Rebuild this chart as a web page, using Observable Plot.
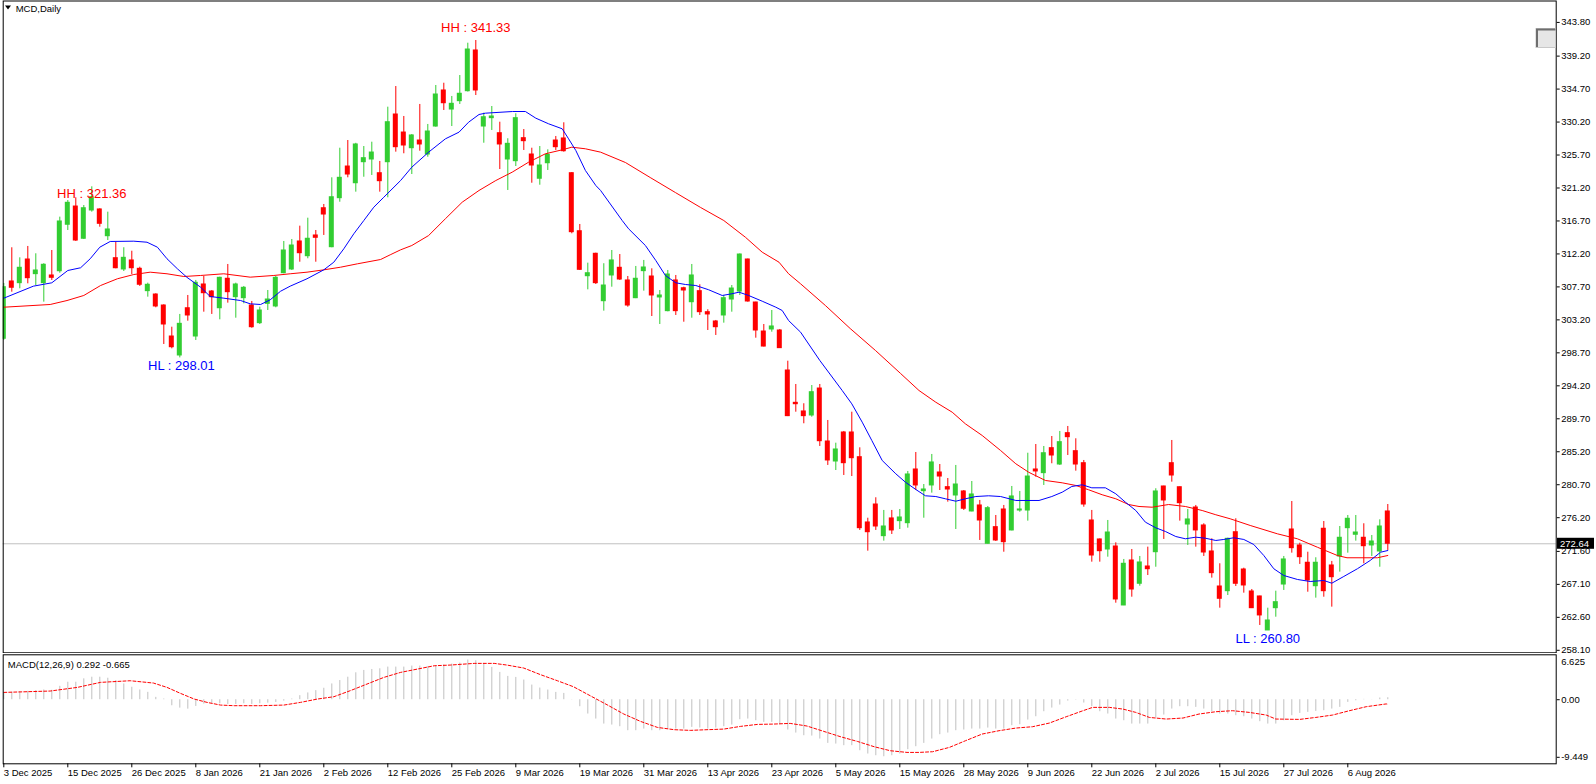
<!DOCTYPE html>
<html>
<head>
<meta charset="utf-8">
<script src="https://cdn.jsdelivr.net/npm/d3@7"></script>
<script src="https://cdn.jsdelivr.net/npm/@observablehq/plot@0.6"></script>
<style>
html,body{margin:0;padding:0;background:#fff;}
#chart{position:relative;width:1596px;height:784px;overflow:hidden;background:#fff;}
#chart svg{position:absolute;left:0;}
</style>
</head>
<body>
<div id="chart"></div>
<script>
// ---- Daily OHLC (bar index 0 = 3 Dec 2025 ... 173 = 13 Aug 2026) ----
const openP = [300.62,308.44,308.21,311.44,309.44,308.21,309.26,309.84,316.18,318.67,314.27,318.13,318.27,314.62,311.62,310.08,311.31,310.17,307.12,306.66,
305.16,300.93,298.34,304.79,300.93,308.03,307.07,304.79,308.81,306.30,306.16,305.16,302.75,305.39,305.03,309.57,310.08,313.90,311.89,314.72,
318.44,313.12,319.81,324.13,321.85,324.72,325.09,323.22,324.72,331.23,328.77,326.63,327.68,325.77,329.59,334.51,331.91,333.05,334.41,339.97,
329.59,330.73,328.68,325.09,324.86,328.00,325.77,322.46,324.58,327.68,327.96,323.22,315.30,309.16,312.22,305.75,309.26,310.31,308.58,306.16,
309.85,309.12,306.26,304.39,308.58,307.52,305.61,307.12,304.25,302.98,303.80,305.98,307.07,311.44,305.57,301.61,301.89,301.75,296.29,291.88,
290.70,290.15,293.83,286.60,283.87,287.83,287.83,284.46,275.55,278.00,273.68,276.10,275.73,275.45,282.78,279.82,280.60,282.37,280.37,279.23,
279.78,277.05,277.87,272.64,274.91,277.32,274.46,277.18,277.18,282.78,282.28,285.69,283.46,287.74,285.28,283.64,275.82,273.23,271.86,272.27,
264.22,270.36,267.18,269.54,271.49,280.46,283.64,280.36,275.27,277.59,275.14,271.59,266.81,266.17,274.22,269.13,266.13,265.45,260.81,263.85,
267.08,274.59,272.41,270.05,266.85,274.69,269.68,270.91,274.77,273.87,273.46,272.41,271.59,277.05];
const highP = [308.17,313.04,311.67,313.22,312.22,310.86,312.67,317.22,319.49,319.86,318.81,321.36,318.36,317.90,313.80,313.04,312.57,310.39,308.21,306.76,
305.26,302.20,303.94,306.53,308.58,309.12,307.21,309.03,310.76,308.21,307.76,305.71,304.93,307.21,309.12,313.90,314.17,315.99,317.08,315.40,
318.95,322.59,326.63,327.68,327.30,326.86,327.45,324.82,332.23,335.05,330.96,328.50,332.60,329.87,335.19,335.50,333.69,336.55,340.96,341.33,
331.41,332.32,330.18,327.92,331.33,329.18,326.63,326.86,326.41,328.23,330.10,323.30,316.22,310.94,312.30,310.86,312.67,312.12,309.12,310.49,
311.31,310.17,307.21,309.94,309.26,307.66,310.76,307.99,304.58,303.12,306.53,307.89,312.20,311.50,305.61,302.57,304.48,301.89,297.56,294.38,
291.75,294.24,294.38,289.47,286.37,287.97,290.60,285.74,276.13,278.92,277.19,277.19,277.32,282.51,285.10,280.73,284.83,283.46,281.55,283.33,
279.91,281.14,278.55,277.73,276.50,277.87,280.46,279.78,285.00,286.19,285.92,287.28,287.97,288.65,286.97,284.01,277.19,273.30,275.82,272.77,
270.50,271.86,270.91,272.18,280.15,280.50,286.74,280.40,277.32,277.87,275.37,273.32,269.91,273.40,276.05,269.31,266.40,265.49,263.85,266.17,
270.91,278.41,272.72,271.49,270.73,275.68,270.23,275.00,276.50,276.50,275.37,273.77,275.91,278.00];
const lowP = [300.40,306.98,307.44,308.12,307.89,305.62,308.58,309.57,315.40,313.90,314.17,317.90,315.85,314.03,310.17,309.80,309.39,307.76,306.30,304.85,
299.84,299.25,298.01,303.02,300.39,304.25,303.94,303.21,305.48,303.43,305.39,302.06,302.57,304.48,304.85,309.49,309.94,311.07,311.54,311.07,
314.72,313.04,319.26,322.59,320.63,322.67,322.91,320.63,319.86,326.09,325.87,323.04,326.22,325.40,329.50,331.78,329.59,332.60,334.30,333.82,
327.31,329.05,323.72,320.86,324.13,326.32,321.85,321.58,323.59,326.32,326.09,314.95,309.94,307.30,308.03,304.39,307.66,308.58,304.93,306.10,
307.12,303.66,302.57,304.30,303.80,302.88,303.43,303.80,301.75,301.07,302.75,304.25,306.53,305.61,300.70,299.50,301.52,299.30,290.00,290.60,
289.02,289.92,285.92,283.33,282.64,281.96,281.82,274.46,271.63,274.46,273.00,273.91,274.59,274.77,279.91,276.13,279.55,279.91,278.32,274.59,
277.19,277.00,273.09,272.60,272.95,271.49,274.40,276.95,275.73,281.73,280.60,283.56,283.33,284.69,282.55,277.63,270.13,270.13,270.81,264.53,
264.20,265.35,266.85,268.31,269.44,273.23,281.05,275.73,272.41,272.18,270.91,267.95,263.85,265.58,266.81,265.90,263.80,261.49,260.80,262.62,
266.27,271.36,269.82,266.03,265.22,265.35,263.99,268.77,271.36,273.00,269.91,270.91,269.44,271.73];
const closeP = [307.66,307.58,310.31,308.89,309.94,310.72,308.94,316.63,319.18,314.03,318.44,319.94,316.31,315.54,310.25,311.67,310.25,307.99,307.99,305.03,
302.57,299.47,302.66,303.80,308.26,306.84,306.30,308.94,306.98,308.03,307.58,302.20,304.48,305.98,308.94,312.67,313.35,312.30,314.27,314.40,
317.58,319.94,322.59,323.04,327.14,325.27,326.04,322.13,330.18,326.77,327.00,328.37,327.14,328.91,333.96,332.77,332.69,334.06,340.10,334.51,
330.86,330.96,327.14,327.23,330.73,327.59,324.27,324.27,325.73,326.77,326.22,315.17,310.03,309.57,308.21,307.89,311.31,308.71,305.16,308.81,
310.35,306.53,306.53,309.39,304.39,307.21,309.26,304.25,303.94,302.20,306.16,307.48,312.12,305.71,301.75,299.56,302.30,299.34,290.06,291.69,
290.06,293.33,286.64,284.01,285.51,283.64,284.32,274.77,274.22,275.00,275.00,274.46,276.23,282.10,280.60,280.05,283.74,281.82,280.05,280.73,
277.42,279.37,275.82,277.50,273.09,272.86,279.10,277.32,281.82,282.51,285.00,284.69,286.51,287.19,283.46,278.00,271.04,271.63,274.18,265.04,
269.91,266.40,270.09,269.17,279.78,278.55,281.96,278.18,275.96,274.46,271.45,268.63,265.13,273.32,267.18,266.95,263.85,262.86,262.17,264.67,
270.50,272.04,270.81,267.63,270.05,266.17,268.08,273.46,276.05,274.18,272.31,272.95,275.00,272.64];

// ---- Moving averages: [bar index, price] ----
const maFast = [[0,306.16],[3.7,307.80],[6,308.26],[8,309.94],[9.6,310.31],[10.8,311.54],[12,313.12],[13.3,313.90],[16.25,313.94],[17.9,313.80],[19.2,313.12],[20.4,311.54],[21.7,310.17],[22.9,309.0],[24.6,307.66],[25.8,306.39],
[27.5,306.16],[29.6,305.84],[30.8,305.39],[32.1,305.30],[33.3,305.94],[34.6,307.11],[35.8,307.80],[37.9,308.81],[40,310.03],[41.25,311.07],[42.5,312.90],[43.75,314.95],[45,316.76],[46.25,318.58],[47.5,319.94],[49.6,322.22],
[51,324.04],[53.1,326.09],[55.2,327.91],[56.9,328.82],[58.1,330.18],[59.4,331.23],[60.2,331.41],[63.6,331.64],[65.2,331.64],[66.5,330.73],[68.1,329.96],[69.8,329.28],[70.6,327.91],[71.5,326.32],[72.7,323.59],[74,321.54],[74.6,320.86],
[77.3,316.76],[78.1,315.63],[80.2,313.35],[81.5,311.30],[82.7,309.26],[84,308.26],[85.2,308.03],[86.5,307.89],[88.1,307.31],[89.8,306.53],[91,306.76],[91.9,306.98],[93.1,306.53],[94.8,305.75],[96.5,304.93],[97.3,304.48],[98.1,303.11],[99.6,301.52],
[102,297.66],[104.8,293.56],[106,291.74],[107.3,289.24],[108.5,286.74],[109.8,284.01],[111.5,282.19],[112.7,281.05],[114,280.05],[115.2,279.19],[116.5,279.09],[117.7,278.78],[119,278.45],[120.2,278.78],[121.5,279.09],[123.1,279.19],[124.6,279.09],
[126.5,278.55],[129.4,278.55],[131,279.09],[132.3,279.68],[133.5,280.46],[134.8,280.69],[136,280.28],[137.7,280.28],[139,279.46],[140.2,278.32],[141.5,277.18],[142.7,275.59],[144,274.82],[145.2,274.32],[146.5,273.63],[147.7,273.32],[149,273.54],
[150.2,273.40],[151.5,273.09],[152.5,273.23],[153.75,273.46],[155,273.23],[156.25,272.54],[157.5,271.04],[158.75,269.23],[160,268.31],[161.7,267.77],[163.3,267.49],[165,267.63],[166,267.26],[167.5,268.18],[169.2,269.23],[170.8,270.36],[172.1,271.49],[173,271.72]];
const maSlow = [[0,304.93],[5.8,305.30],[7.9,305.84],[10,306.53],[12.1,307.89],[14.2,308.81],[16.25,309.39],[18.3,309.71],[20.4,309.49],[22.5,309.12],[24.6,309.26],[27.5,309.49],[30.8,309.03],[33.75,309.26],[35.8,309.49],[37.9,309.71],
[40,310.03],[42.1,310.39],[44.2,310.85],[47.1,311.44],[48.3,312.08],[49.6,312.76],[51,313.35],[53.1,314.71],[55.2,317.00],[57.3,319.26],[59.4,320.86],[61.5,322.22],[63.55,323.36],[65.6,324.72],[67.7,325.87],[69.8,326.41],[71,326.77],[72.7,326.55],[74.6,326.09],
[77.7,324.68],[80.8,322.63],[83.95,320.58],[87.1,318.54],[90,316.76],[92.7,314.48],[94.8,312.44],[96.9,311.07],[98.1,309.49],[99.6,308.12],[102.7,305.16],[105.8,302.02],[108.96,299.02],[112.1,295.88],[114.4,293.56],[116.5,291.96],[118.55,290.60],
[120.2,289.01],[122.3,287.42],[124.6,285.37],[126.5,283.56],[128.1,282.41],[130.2,281.28],[132.3,280.96],[134,280.60],[135.6,280.01],[137.3,279.33],[139,278.78],[140.6,278.00],[141.9,277.73],[143.55,277.63],[145.6,278.00],[147.7,277.73],[149.8,277.18],
[151.5,276.60],[153.3,276.05],[155.8,275.14],[159.2,274.00],[161.7,273.32],[164.2,272.17],[166.7,271.04],[167.9,270.73],[171.7,270.73],[173,271.04]];

// ---- MACD(12,26,9): main histogram per bar and signal line ----
const macdMain = [0.94,1.09,1.19,1.24,1.34,1.44,1.39,1.98,2.58,2.58,3.08,3.32,3.32,3.17,2.83,2.33,1.84,1.44,1.09,0.35,
0.10,-0.89,-1.24,-1.39,-0.99,-0.64,-0.55,-0.60,-0.70,-0.70,-0.60,-0.70,-0.60,-0.50,-0.40,-0.20,0.10,0.60,1.00,1.34,
1.69,2.33,2.83,3.32,3.97,4.32,4.46,4.56,4.81,4.81,4.81,4.96,4.96,4.91,4.96,5.15,5.26,5.41,5.85,5.75,
5.36,4.77,4.03,3.44,3.29,2.90,2.16,1.72,1.43,1.08,0.93,0.03,-1.03,-2.11,-2.85,-3.59,-3.74,-3.98,-4.57,-4.57,
-4.33,-4.57,-4.57,-4.33,-4.33,-4.33,-4.08,-4.18,-4.33,-4.18,-3.98,-3.74,-2.95,-2.85,-3.10,-3.34,-3.34,-3.69,-4.47,-4.92,
-5.31,-5.36,-5.80,-6.44,-6.54,-6.78,-6.78,-7.52,-8.01,-8.26,-8.41,-8.26,-8.01,-7.37,-6.93,-6.44,-5.80,-5.16,-4.92,-4.57,
-4.47,-4.33,-4.33,-4.18,-4.33,-4.33,-3.83,-3.69,-3.00,-2.51,-1.77,-1.23,-0.79,-0.20,-0.05,-0.49,-1.03,-1.77,-2.11,-2.85,
-3.10,-3.59,-3.59,-3.59,-2.70,-2.26,-1.38,-1.03,-1.03,-1.13,-1.38,-1.77,-2.11,-2.11,-2.36,-2.51,-2.85,-3.24,-3.59,-3.59,
-3.10,-2.36,-2.02,-1.87,-1.72,-1.62,-1.38,-1.13,-0.39,-0.15,0.05,-0.02,0.25,0.292];
const signalPts = [[0,1.08],[5.8,1.28],[9.2,1.82],[12.1,2.56],[15.8,2.80],[18.7,2.46],[20.4,1.82],[22.1,0.93],[23.8,0.10],[25.4,-0.39],[27.1,-0.79],[28.8,-0.88],[32.1,-0.88],[35,-0.79],[37.1,-0.39],[39.2,0.10],
[41.25,0.44],[43.3,1.33],[45.4,2.31],[47.5,3.29],[49.6,4.03],[51.7,4.52],[53.8,5.01],[55.8,5.11],[58.8,5.36],[61.3,5.36],[62.9,5.11],[65,4.67],[67.1,3.69],[69.2,2.80],[71.2,1.92],[73.3,0.59],[75.4,-0.74],
[77.5,-2.11],[79.6,-3.20],[81.7,-4.08],[83.8,-4.42],[85.8,-4.52],[87.9,-4.42],[90,-4.33],[92.1,-3.93],[94.2,-3.64],[96.25,-3.59],[98.3,-3.49],[100.4,-3.88],[102.5,-4.67],[104.6,-5.46],[106.7,-6.15],[108.8,-6.93],
[110.8,-7.52],[112.9,-7.77],[114.4,-7.77],[116.1,-7.67],[118.2,-7.03],[120.2,-6.05],[122.3,-5.06],[124.4,-4.57],[126.5,-4.18],[128.6,-3.98],[130.7,-3.44],[132.8,-2.51],[134.9,-1.62],[136.1,-1.13],[138.2,-1.13],
[139.9,-1.38],[141.5,-1.87],[143.2,-2.61],[145.3,-2.85],[147.4,-2.70],[149.4,-2.11],[151.5,-1.77],[153.6,-1.62],[155.7,-1.87],[157.8,-2.26],[159,-2.85],[162,-2.90],[164,-2.61],[166.1,-2.26],[168.2,-1.62],[170.3,-1.03],[172.8,-0.62],[173,-0.665]];

// ---- Axis ticks and labels ----
const priceTicks = [343.80,339.20,334.70,330.20,325.70,321.20,316.70,312.20,307.70,303.20,298.70,294.20,289.70,285.20,280.70,276.20,271.60,267.10,262.60,258.10];
const dateTicks = [0,8,16,24,32,40,48,56,64,72,80,88,96,104,112,120,128,136,144,152,160,168];
const dateLabels = ["3 Dec 2025","15 Dec 2025","26 Dec 2025","8 Jan 2026","21 Jan 2026","2 Feb 2026","12 Feb 2026","25 Feb 2026","9 Mar 2026","19 Mar 2026","31 Mar 2026","13 Apr 2026","23 Apr 2026","5 May 2026","15 May 2026","28 May 2026","9 Jun 2026","22 Jun 2026","2 Jul 2026","15 Jul 2026","27 Jul 2026","6 Aug 2026"];
const macdTicks = [6.625, 0, -9.449];

// ---- Swing annotations ----
const noteLabels = ["HH : 341.33","HH : 321.36","HL : 298.01","LL : 260.80"];
const noteIdx = [59, 11, 22.2, 158];
const notePrice = [343.10, 320.41, 296.91, 259.72];
const noteColor = ["#ff0000","#ff0000","#0000ff","#0000ff"];

const symbolTitle = "MCD,Daily";
const macdTitle = "MACD(12,26,9) 0.292 -0.665";

// ---------------------------------------------------------------
const W = 1596;
const FONT = "'Liberation Sans', Arial, sans-serif";
const GREEN = "#32cd32", RED = "#ff0000", BLUE = "#0000ff";
const xDomain = [-0.075, 194.05];
const half = 0.3125;

const candles = openP.map((o, i) => ({i, o, h: highP[i], l: lowP[i], c: closeP[i]}));
const ups = candles.filter(d => d.c >= d.o);
const downs = candles.filter(d => d.c < d.o);
const lastClose = closeP[closeP.length - 1];
const notes = noteLabels.map((t, k) => ({t, i: noteIdx[k], p: notePrice[k], color: noteColor[k]}));

const pricePlot = Plot.plot({
  width: W, height: 653,
  marginLeft: 2.7, marginRight: 40.3, marginTop: 0.5, marginBottom: 0.7,
  style: {fontFamily: FONT, fontSize: "9.5px", color: "black", background: "white", overflow: "visible"},
  x: {domain: xDomain, axis: null},
  y: {domain: [257.76, 346.79], range: [652.3, 0], axis: null},
  marks: [
    Plot.ruleY([lastClose], {stroke: "#c0c0c0", strokeWidth: 1}),
    Plot.ruleX(ups, {x: "i", y1: "l", y2: "h", stroke: GREEN, clip: true}),
    Plot.ruleX(downs, {x: "i", y1: "l", y2: "h", stroke: RED, clip: true}),
    Plot.rect(ups, {x1: d => d.i - half, x2: d => d.i + half, y1: "o", y2: "c", fill: GREEN, insetTop: -0.5, insetBottom: -0.5, clip: true}),
    Plot.rect(downs, {x1: d => d.i - half, x2: d => d.i + half, y1: "o", y2: "c", fill: RED, insetTop: -0.5, insetBottom: -0.5, clip: true}),
    Plot.line(maSlow, {x: d => d[0], y: d => d[1], stroke: RED, strokeWidth: 1, clip: true}),
    Plot.line(maFast, {x: d => d[0], y: d => d[1], stroke: BLUE, strokeWidth: 1, clip: true}),
    Plot.text(notes, {x: "i", y: "p", text: "t", fill: d => d.color, fontSize: 13, fontFamily: FONT, textAnchor: "middle", lineAnchor: "middle"}),
    Plot.text([symbolTitle], {frameAnchor: "top-left", dx: 12.5, dy: 8, lineAnchor: "middle", textAnchor: "start", fill: "black"}),
    Plot.axisY({anchor: "right", ticks: priceTicks, tickFormat: d => d.toFixed(2), tickSize: 3, tickPadding: 2, label: null}),
    Plot.frame({stroke: "black"})
  ]
});

const macdPlot = Plot.plot({
  width: W, height: 131,
  marginLeft: 2.7, marginRight: 40.3, marginTop: 1.3, marginBottom: 20.7,
  style: {fontFamily: FONT, fontSize: "9.5px", color: "black", background: "white", overflow: "visible"},
  x: {domain: xDomain, axis: null},
  y: {domain: [-9.449, 6.625], axis: null},
  marks: [
    Plot.ruleX(macdMain.map((v, i) => ({i, v})), {x: "i", y1: 0, y2: "v", stroke: "#c0c0c0", strokeWidth: 1, clip: true}),
    Plot.line(signalPts, {x: d => d[0], y: d => d[1], stroke: RED, strokeWidth: 1, strokeDasharray: "3,2", clip: true}),
    Plot.text([macdTitle], {frameAnchor: "top-left", dx: 4.6, dy: 9.7, lineAnchor: "middle", textAnchor: "start", fill: "black"}),
    Plot.axisY({anchor: "right", ticks: [macdTicks[1]], tickFormat: d => d.toFixed(2), tickSize: 3, tickPadding: 2, label: null}),
    Plot.axisY({anchor: "right", ticks: [macdTicks[0]], tickFormat: d => String(d), tickSize: 0, tickPadding: 5, dy: 7.4, label: null}),
    Plot.axisY({anchor: "right", ticks: [macdTicks[2]], tickFormat: d => String(d).replace("\u2212", "-"), tickSize: 3, tickPadding: 2, dy: -6.5, label: null}),
    Plot.axisX({anchor: "bottom", ticks: dateTicks, tickFormat: d => dateLabels[dateTicks.indexOf(d)], tickSize: 4, tickPadding: 1, textAnchor: "start", label: null}),
    Plot.frame({stroke: "black"})
  ]
});

const chart = document.getElementById("chart");
pricePlot.style.top = "0px";
macdPlot.style.top = "653px";
chart.appendChild(pricePlot);
chart.appendChild(macdPlot);

// decorations: current-price tag, symbol triangle, trade panel button
const yScale = pricePlot.scale("y");
const yLast = yScale.apply(lastClose);
const svg = d3.select(pricePlot);
svg.append("rect").attr("x", 1557).attr("y", yLast - 5.5).attr("width", 37).attr("height", 11).attr("fill", "black");
svg.append("text").attr("x", 1560).attr("y", yLast).attr("dy", "0.35em").attr("fill", "white")
  .attr("text-anchor", "start")
  .style("font-family", FONT).style("font-size", "9.5px").text(lastClose.toFixed(2));
svg.append("path").attr("d", "M5,5.5 L11,5.5 L8,9.5 Z").attr("fill", "black");
svg.append("rect").attr("x", 1536).attr("y", 28.5).attr("width", 19.5).attr("height", 19).attr("fill", "#e6e6e6").attr("stroke", "#c8c8c8");
svg.append("path").attr("d", "M1537,47 L1537,29.5 L1555.5,29.5").attr("fill", "none").attr("stroke", "#6e6e6e").attr("stroke-width", 2);
</script>
</body>
</html>
